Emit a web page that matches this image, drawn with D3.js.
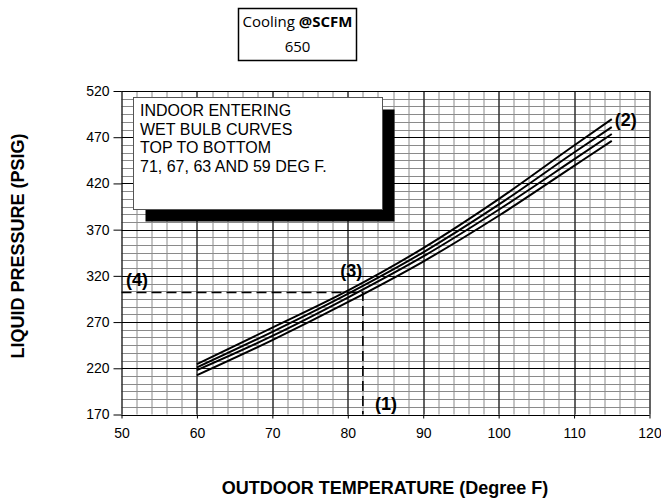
<!DOCTYPE html>
<html>
<head>
<meta charset="utf-8">
<script src="https://cdn.jsdelivr.net/npm/d3@7"></script>
<style>
  body { margin: 0; background: #fff; }
  svg { display: block; font-family: Arial, "Liberation Sans", sans-serif; }
</style>
</head>
<body>
<div id="chart"></div>
<script>
const temps = [60, 70, 80, 90, 100, 110, 115];
const wb71 = [224.5, 264, 304, 350, 403, 461, 489.5];
const wb67 = [221, 259.5, 300.5, 345.5, 397, 453.5, 481];
const wb63 = [218, 255, 296.5, 341, 391.5, 446, 473.5];
const wb59 = [212.5, 250.5, 291.5, 335.5, 385, 439, 466];
const xTicks = [50, 60, 70, 80, 90, 100, 110, 120];
const yTicks = [170, 220, 270, 320, 370, 420, 470, 520];
const legendLines = ["INDOOR ENTERING", "WET BULB CURVES", "TOP TO BOTTOM", "71, 67, 63 AND 59 DEG F."];
const readTemp = 82;
const readPressure = 302;

const width = 661;
const height = 500;
const margin = { top: 91, right: 11.5, bottom: 85.5, left: 121.5 };
const innerWidth = width - margin.left - margin.right;
const innerHeight = height - margin.top - margin.bottom;
const fontFamily = "Arial, 'Liberation Sans', sans-serif";

const svg = d3.select("#chart")
  .append("svg")
  .attr("width", width)
  .attr("height", height);

const chart = svg.append("g")
  .attr("transform", `translate(${margin.left}, ${margin.top})`);

const x = d3.scaleLinear().domain([50, 120]).range([0, innerWidth]);
const y = d3.scaleLinear().domain([170, 520]).range([innerHeight, 0]);

// minor grid
const minorX = d3.range(50, 120.1, 2);
const minorY = d3.range(0, 43).map((i) => 170 + i * 50 / 6);

chart.append("g")
  .selectAll("line")
  .data(minorX)
  .join("line")
  .attr("x1", (d) => Math.round(x(d)) + 0.5)
  .attr("x2", (d) => Math.round(x(d)) + 0.5)
  .attr("y1", 0)
  .attr("y2", innerHeight)
  .attr("stroke", "#8a8a8a");

chart.append("g")
  .selectAll("line")
  .data(minorY)
  .join("line")
  .attr("x1", 0)
  .attr("x2", innerWidth)
  .attr("y1", (d) => Math.round(y(d)) + 0.5)
  .attr("y2", (d) => Math.round(y(d)) + 0.5)
  .attr("stroke", "#8a8a8a");

// major grid
chart.append("g")
  .selectAll("line")
  .data(xTicks)
  .join("line")
  .attr("x1", (d) => Math.round(x(d)) + 0.5)
  .attr("x2", (d) => Math.round(x(d)) + 0.5)
  .attr("y1", 0)
  .attr("y2", innerHeight)
  .attr("stroke", "#000");

chart.append("g")
  .selectAll("line")
  .data(yTicks)
  .join("line")
  .attr("x1", 0)
  .attr("x2", innerWidth)
  .attr("y1", (d) => Math.round(y(d)) + 0.5)
  .attr("y2", (d) => Math.round(y(d)) + 0.5)
  .attr("stroke", "#000");

// axes
chart.append("g")
  .call(d3.axisLeft(y).tickValues(yTicks).tickSize(8).tickPadding(4))
  .call((g) => g.select(".domain").remove())
  .call((g) => g.selectAll(".tick line").attr("stroke", "#000"))
  .call((g) => g.selectAll(".tick text").attr("fill", "#000").attr("font-size", 14).attr("font-family", fontFamily));

chart.append("g")
  .attr("transform", `translate(0, ${innerHeight})`)
  .call(d3.axisBottom(x).tickValues(xTicks).tickSize(4).tickPadding(10))
  .call((g) => g.select(".domain").remove())
  .call((g) => g.selectAll(".tick line").attr("stroke", "#000"))
  .call((g) => g.selectAll(".tick text").attr("fill", "#000").attr("font-size", 14).attr("font-family", fontFamily));

// legend box with shadow
const box = { x: 133.5, y: 97.5, w: 249, h: 112 };
svg.append("rect")
  .attr("x", box.x + 12).attr("y", box.y + 12)
  .attr("width", box.w).attr("height", box.h)
  .attr("fill", "#000");
svg.append("rect")
  .attr("x", box.x).attr("y", box.y)
  .attr("width", box.w).attr("height", box.h)
  .attr("fill", "#fff")
  .attr("stroke", "#555");
svg.append("g")
  .selectAll("text")
  .data(legendLines)
  .join("text")
  .attr("x", box.x + 6.5)
  .attr("y", (d, i) => 116 + i * 18.6)
  .attr("font-size", 16)
  .attr("fill", "#000")
  .text((d) => d);

// curves
const line = d3.line()
  .x((d) => x(d[0]))
  .y((d) => y(d[1]))
  .curve(d3.curveMonotoneX);

[wb71, wb67, wb63, wb59].forEach((values) => {
  chart.append("path")
    .datum(temps.map((t, i) => [t, values[i]]))
    .attr("fill", "none")
    .attr("stroke", "#000")
    .attr("stroke-width", 2)
    .attr("d", line);
});

// dashed read lines
chart.append("path")
  .attr("d", `M${x(50)},${y(readPressure)}H${x(readTemp)}V${y(170)}`)
  .attr("fill", "none")
  .attr("stroke", "#000")
  .attr("stroke-width", 1.6)
  .attr("stroke-dasharray", "10 5");

// point labels
const markers = [
  { label: "(1)", t: 83.6, p: 175.4 },
  { label: "(2)", t: 115.4, p: 481.7 },
  { label: "(3)", t: 79.0, p: 318.3 },
  { label: "(4)", t: 50.6, p: 309.1 },
];
chart.append("g")
  .selectAll("text")
  .data(markers)
  .join("text")
  .attr("x", (d) => x(d.t))
  .attr("y", (d) => y(d.p))
  .attr("font-size", 18)
  .attr("font-weight", "bold")
  .attr("fill", "#000")
  .text((d) => d.label);

// axis titles
svg.append("text")
  .attr("x", 385)
  .attr("y", 494)
  .attr("text-anchor", "middle")
  .attr("font-size", 18)
  .attr("font-weight", "bold")
  .text("OUTDOOR TEMPERATURE (Degree F)");

svg.append("text")
  .attr("transform", "translate(24, 246) rotate(-90)")
  .attr("text-anchor", "middle")
  .attr("font-size", 18)
  .attr("font-weight", "bold")
  .text("LIQUID PRESSURE (PSIG)");

// title box
svg.append("rect")
  .attr("x", 238.5).attr("y", 8.5)
  .attr("width", 118).attr("height", 52)
  .attr("fill", "#fff")
  .attr("stroke", "#000")
  .attr("stroke-width", 1.5);
const titleLine = svg.append("text")
  .attr("x", 297.5)
  .attr("y", 27)
  .attr("text-anchor", "middle")
  .attr("font-family", "'Open Sans', 'Noto Sans', sans-serif")
  .attr("font-size", 15)
  .attr("textLength", 110);
titleLine.append("tspan").text("Cooling ");
titleLine.append("tspan").attr("font-weight", "bold").text("@SCFM");
svg.append("text")
  .attr("x", 297.5)
  .attr("y", 52)
  .attr("text-anchor", "middle")
  .attr("font-family", "'Open Sans', 'Noto Sans', sans-serif")
  .attr("font-size", 15)
  .text("650");
</script>
</body>
</html>
